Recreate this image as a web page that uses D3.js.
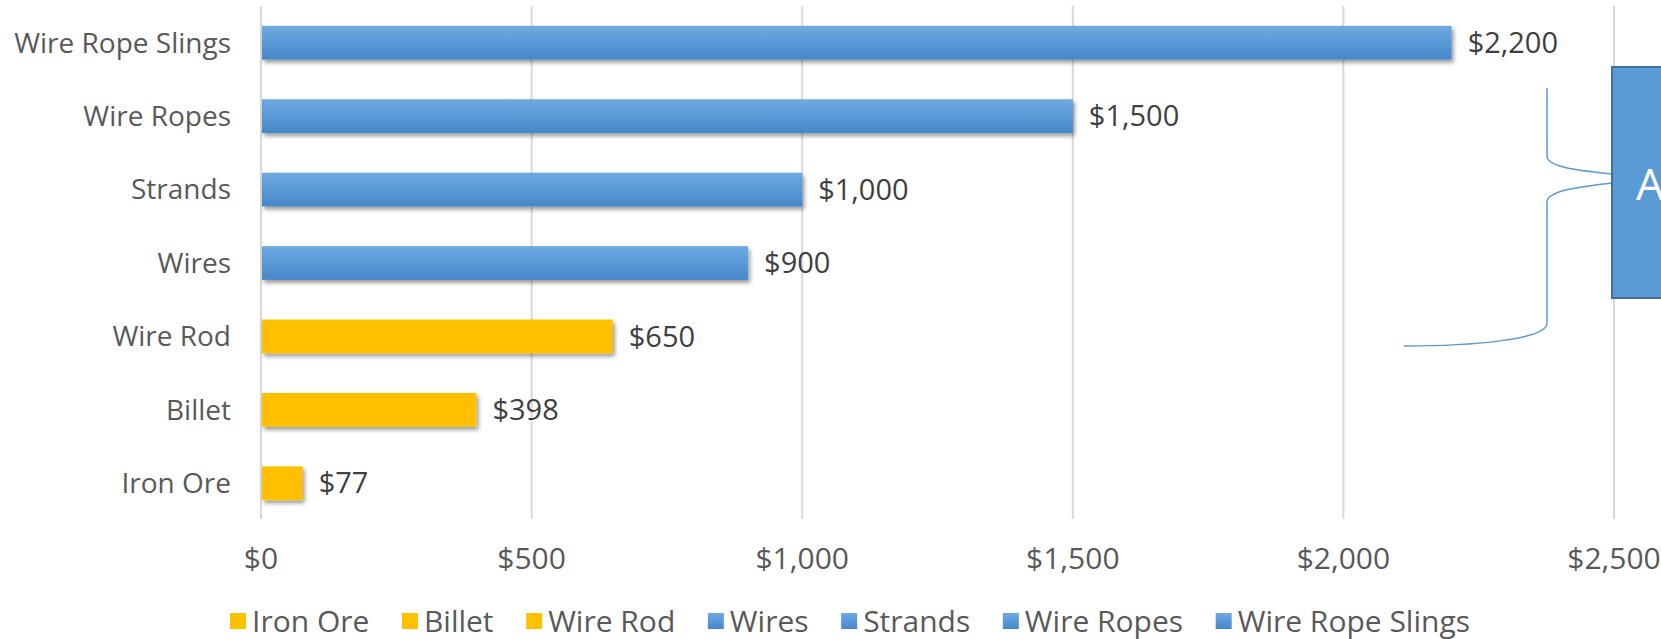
<!DOCTYPE html>
<html>
<head>
<meta charset="utf-8">
<script src="https://cdn.jsdelivr.net/npm/d3@7"></script>
<style>
  body { margin: 0; background: #fff; }
  svg { display: block; font-family: "Open Sans", sans-serif; }
</style>
</head>
<body>
<svg id="chart" width="1661" height="639"></svg>
<script>
// data (bottom to top as in the sheet)
const categories = ["Iron Ore", "Billet", "Wire Rod", "Wires", "Strands", "Wire Ropes", "Wire Rope Slings"];
const values = [77, 398, 650, 900, 1000, 1500, 2200];
const groups = ["raw", "raw", "raw", "product", "product", "product", "product"];
const xTicks = [0, 500, 1000, 1500, 2000, 2500];

const svg = d3.select('#chart');
const width = +svg.attr('width');
const height = +svg.attr('height');
const margin = {top: 6, right: 47, bottom: 120, left: 261};

const data = categories.map((c, i) => ({name: c, value: values[i], group: groups[i]}));

const xScale = d3.scaleLinear()
  .domain([0, 2500])
  .range([margin.left, width - margin.right]);
const yScale = d3.scaleBand()
  .domain(categories.slice().reverse())
  .range([margin.top, height - margin.bottom + 1])
  .paddingInner(0.54)
  .paddingOuter(0.27);

const defs = svg.append('defs');
const grad = defs.append('linearGradient')
  .attr('id', 'blueGrad').attr('x1', 0).attr('y1', 0).attr('x2', 0).attr('y2', 1);
grad.append('stop').attr('offset', '0%').attr('stop-color', '#70a9de');
grad.append('stop').attr('offset', '45%').attr('stop-color', '#5b9bd9');
grad.append('stop').attr('offset', '100%').attr('stop-color', '#4787c8');

const shadow = defs.append('filter').attr('id', 'shadow')
  .attr('x', '-5%').attr('y', '-20%').attr('width', '120%').attr('height', '160%');
shadow.append('feDropShadow')
  .attr('dx', 2).attr('dy', 3).attr('stdDeviation', 2)
  .attr('flood-color', '#000').attr('flood-opacity', 0.4);

const fillFor = g => g == 'raw' ? '#ffc000' : 'url(#blueGrad)';

// gridlines
svg.append('g')
  .selectAll('line')
  .data(xTicks)
  .enter()
  .append('line')
  .attr('x1', d => xScale(d)).attr('x2', d => xScale(d))
  .attr('y1', margin.top).attr('y2', height - margin.bottom)
  .attr('stroke', '#d9d9d9').attr('stroke-width', 2);

// x tick labels
svg.append('g')
  .selectAll('text')
  .data(xTicks)
  .enter()
  .append('text')
  .attr('x', d => xScale(d))
  .attr('y', 558)
  .attr('dy', '0.35em')
  .attr('text-anchor', 'middle')
  .attr('font-size', 30)
  .attr('fill', '#595959')
  .text(d => '$' + d3.format(',')(d));

// category labels
svg.append('g')
  .selectAll('text')
  .data(data)
  .enter()
  .append('text')
  .attr('x', margin.left - 30)
  .attr('y', d => yScale(d.name) + yScale.bandwidth() / 2)
  .attr('dy', '0.35em')
  .attr('text-anchor', 'end')
  .attr('font-size', 28)
  .attr('fill', '#595959')
  .text(d => d.name);

// bars
svg.append('g')
  .selectAll('rect')
  .data(data)
  .enter()
  .append('rect')
  .attr('x', xScale(0) + 1)
  .attr('y', d => yScale(d.name))
  .attr('width', d => xScale(d.value) - xScale(0) - 1)
  .attr('height', yScale.bandwidth())
  .attr('fill', d => fillFor(d.group))
  .attr('filter', 'url(#shadow)');

// value labels
svg.append('g')
  .selectAll('text')
  .data(data)
  .enter()
  .append('text')
  .attr('x', d => xScale(d.value) + 16)
  .attr('y', d => yScale(d.name) + yScale.bandwidth() / 2)
  .attr('dy', '0.35em')
  .attr('font-size', 29)
  .attr('fill', '#404040')
  .text(d => '$' + d3.format(',')(d.value));

// callout brace + box (annotation)
const callout = svg.append('g');
callout.append('path')
  .attr('d', 'M1547,88 L1547,156 C1547,168 1585,171 1612,174 M1612,183 C1585,186 1547,190 1547,202 L1547,323 C1547,340 1470,346 1404,346')
  .attr('fill', 'none').attr('stroke', '#5b9bd5').attr('stroke-width', 1.5);
callout.append('rect')
  .attr('x', 1612).attr('y', 67).attr('width', 80).attr('height', 231)
  .attr('fill', '#5b9bd5').attr('stroke', '#41719c').attr('stroke-width', 2);
callout.append('text')
  .attr('x', 1636).attr('y', 200)
  .attr('font-size', 44).attr('fill', '#fff')
  .text('A');

// legend
const legendData = categories.map((c, i) => ({name: c, group: groups[i]}));
const legend = svg.append('g');
const items = legend.selectAll('g')
  .data(legendData)
  .enter()
  .append('g');
items.append('rect')
  .attr('width', 16).attr('height', 16)
  .attr('y', -8)
  .attr('fill', d => fillFor(d.group));
items.append('text')
  .attr('x', 22)
  .attr('dy', '0.35em')
  .attr('font-size', 30)
  .attr('fill', '#595959')
  .text(d => d.name);
// spread items between the left and right ends of the legend
const legendLeft = 230, legendRight = 1470;
const widths = [];
items.each(function() { widths.push(this.getBBox().width); });
const gap = (legendRight - legendLeft - d3.sum(widths)) / (widths.length - 1);
let offset = legendLeft;
items.each(function(d, i) {
  d3.select(this).attr('transform', `translate(${offset},621)`);
  offset += widths[i] + gap;
});
</script>
</body>
</html>
